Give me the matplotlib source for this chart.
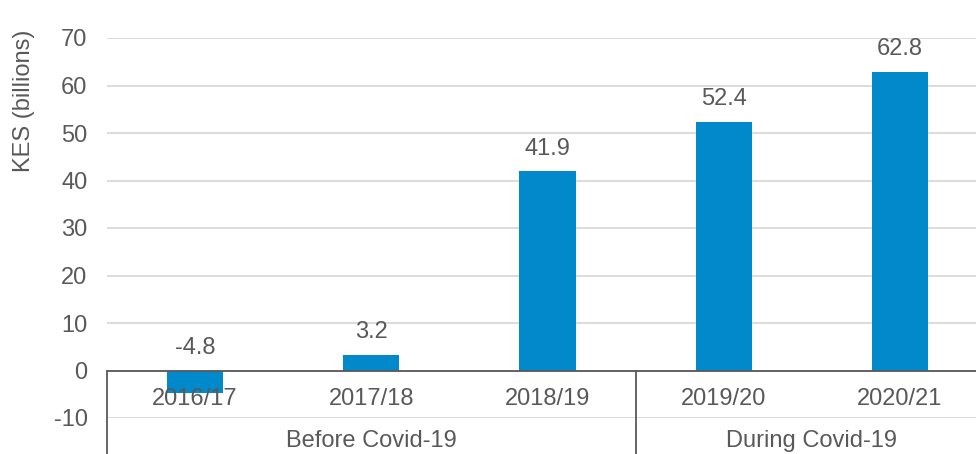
import matplotlib.pyplot as plt

years = ["2016/17", "2017/18", "2018/19", "2019/20", "2020/21"]
values = [-4.8, 3.2, 41.9, 52.4, 62.8]
groups = ["Before Covid-19", "During Covid-19"]
group_sizes = [3, 2]

bar_color = "#0189CC"
text_color = "#595959"
grid_color = "#D9D9D9"

plt.rcParams['font.family'] = ['Liberation Sans', 'DejaVu Sans']
plt.rcParams['axes.unicode_minus'] = False

fig = plt.figure(figsize=(9.76, 4.54), dpi=100)
ax = fig.add_axes([107 / 976, 36 / 454, 881 / 976, 380 / 454])

x = list(range(len(years)))
ax.bar(x, values, width=0.32, color=bar_color, zorder=3)

ax.set_xlim(-0.5, len(years) - 0.5)
ax.set_ylim(-10, 70)
ax.set_yticks(range(-10, 71, 10))
ax.tick_params(axis='y', length=0, labelsize=17, colors=text_color, pad=14)
ax.set_xticks([])
for s in ax.spines.values():
    s.set_visible(False)
ax.grid(axis='y', color=grid_color, linewidth=1.3, zorder=0)
ax.axhline(0, color=text_color, linewidth=1.3, zorder=4)

ax.set_ylabel("KES (billions)", fontsize=17, color=text_color)
ax.yaxis.set_label_coords(-0.082, 0.835)

# data labels
for xi, v in zip(x, values):
    ax.annotate(f"{v:.1f}", (xi, max(v, 0)), xytext=(0, 16.5), textcoords='offset points',
                ha='center', va='center', fontsize=17, color=text_color)

# category labels
for xi, y in zip(x, years):
    ax.text(xi, -6.1, y, ha='center', va='center', fontsize=17, color=text_color, zorder=5)

# group labels and separators
start = 0
bounds = [-0.5]
for g, n in zip(groups, group_sizes):
    mid = start + (n - 1) / 2
    ax.text(mid, -14.8, g, ha='center', va='center', fontsize=17, color=text_color, clip_on=False)
    start += n
    bounds.append(start - 0.5)
for b in bounds:
    ax.plot([b, b], [0, -20], color=text_color, linewidth=1.3, clip_on=False, zorder=4)

fig.savefig("out.png", dpi=100)
